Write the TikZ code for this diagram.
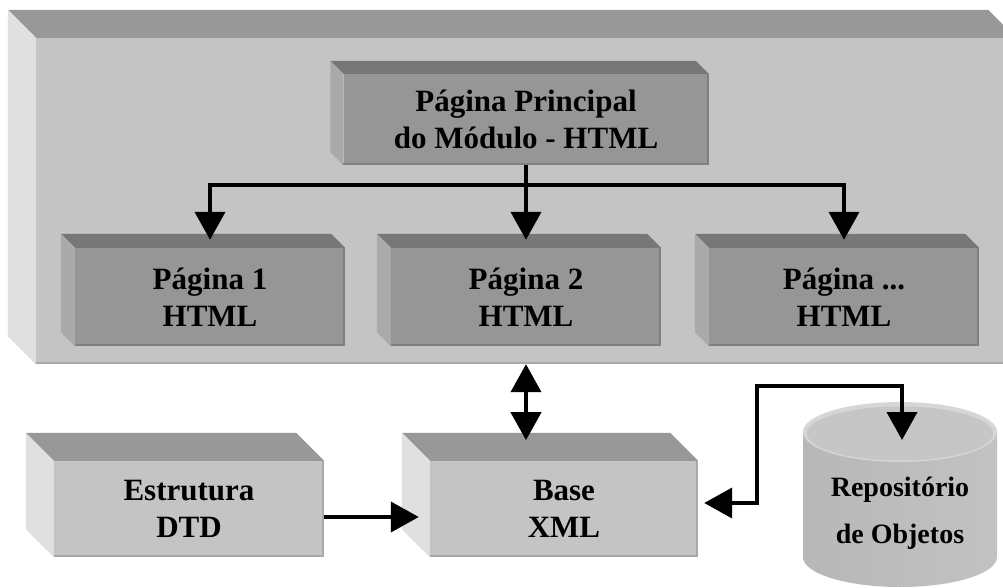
\documentclass[tikz,border=0pt]{standalone}
\usepackage{fontspec}
\setmainfont{Liberation Serif}
\usetikzlibrary{arrows.meta,positioning,calc}
\definecolor{frontlt}{HTML}{C4C4C4}
\definecolor{toplt}{HTML}{989898}
\definecolor{sidelt}{HTML}{E0E0E0}
\definecolor{edgelt}{HTML}{A8A8A8}
\definecolor{frontdk}{HTML}{969696}
\definecolor{topdk}{HTML}{777777}
\definecolor{sidedk}{HTML}{AAAAAA}
\definecolor{edgedk}{HTML}{808080}
\definecolor{cyltop}{HTML}{C6C6C6}
\tikzset{
  lbox/.style={rectangle,fill=frontlt,inner sep=0pt,align=center,font=\bfseries\fontsize{31}{37}\selectfont},
  dbox/.style={rectangle,fill=frontdk,inner sep=0pt,align=center,font=\bfseries\fontsize{31}{37}\selectfont},
  conn/.style={-{Triangle[length=28pt,width=30pt]},line width=4pt},
  dconn/.style={{Triangle[length=28pt,width=30pt]}-{Triangle[length=28pt,width=30pt]},line width=4pt}
}
% top and left faces of a bevelled box: node, depth, top, side, edge
\newcommand{\boxfaces}[5]{%
  \fill[#3] ([xshift=-#2pt,yshift=#2pt]#1.north west) -- ([xshift=-#2pt,yshift=#2pt]#1.north east) -- (#1.north east) -- (#1.north west) -- cycle;
  \fill[#4] ([xshift=-#2pt,yshift=#2pt]#1.north west) -- (#1.north west) -- (#1.south west) -- ([xshift=-#2pt,yshift=#2pt]#1.south west) -- cycle;
  \draw[#5,line width=2pt] ([yshift=1pt]#1.south west) -- ([xshift=-1pt,yshift=1pt]#1.south east) -- ([xshift=-1pt]#1.north east);
}

\begin{document}
\begin{tikzpicture}[x=1pt,y=-1pt]
\path[use as bounding box,clip] (0,0) rectangle (1003,588);
\fill[white] (0,0) rectangle (1003,588);

% module frame
\node[lbox,minimum width=980pt,minimum height=326pt] (frame) at (526,201) {};
\boxfaces{frame}{28}{toplt}{sidelt}{edgelt}

% html pages
\node[dbox,minimum width=365pt,minimum height=91pt] (main) at (526,119.5) {Página Principal\\do Módulo - HTML};
\boxfaces{main}{13}{topdk}{sidedk}{edgedk}
\node[dbox,minimum width=270pt,minimum height=98pt] (p1) at (210,297) {Página 1\\HTML};
\boxfaces{p1}{14}{topdk}{sidedk}{edgedk}
\node[dbox,minimum width=270pt,minimum height=98pt] (p2) at (526,297) {Página 2\\HTML};
\boxfaces{p2}{14}{topdk}{sidedk}{edgedk}
\node[dbox,minimum width=270pt,minimum height=98pt] (p3) at (844,297) {Página ...\\HTML};
\boxfaces{p3}{14}{topdk}{sidedk}{edgedk}

% lower boxes
\node[lbox,minimum width=270pt,minimum height=96pt] (dtd) at (189,509) {Estrutura\\DTD};
\boxfaces{dtd}{28}{toplt}{sidelt}{edgelt}
\node[lbox,minimum width=268pt,minimum height=96pt] (base) at (564,509) {Base\\XML};
\boxfaces{base}{28}{toplt}{sidelt}{edgelt}

% repository
\shade[left color=black!28,middle color=black!36,right color=black!24] (803,432) -- (803,557) arc[start angle=180,end angle=360,x radius=97pt,y radius=30pt] -- (997,432) -- cycle;
\fill[black!16] (900,432) ellipse[x radius=97pt,y radius=30pt];
\fill[cyltop] (900,433.5) ellipse[x radius=93pt,y radius=27pt];
\node[font=\bfseries\fontsize{28}{47}\selectfont,align=center] (rep) at (900,513) {Repositório\\de Objetos};
\coordinate (repin) at (902,440);

% connectors
\draw[line width=4pt] (main.south) -- ++(0,20) coordinate (hub);
\draw[conn] (hub) -| ([yshift=8pt]p1.north);
\draw[conn] (hub) -| ([yshift=8pt]p3.north);
\draw[conn] (main.south) -- ([yshift=8pt]p2.north);
\draw[dconn] (frame.south) -- ++(0,76);
\draw[conn] ([yshift=-8pt]dtd.east) -- ([xshift=-11pt,yshift=-8pt]base.west);
\draw[dconn] (repin) -- ++(0,-54) -| ([xshift=59pt,yshift=6pt]base.east) -- ([xshift=6pt,yshift=6pt]base.east);
\end{tikzpicture}
\end{document}
